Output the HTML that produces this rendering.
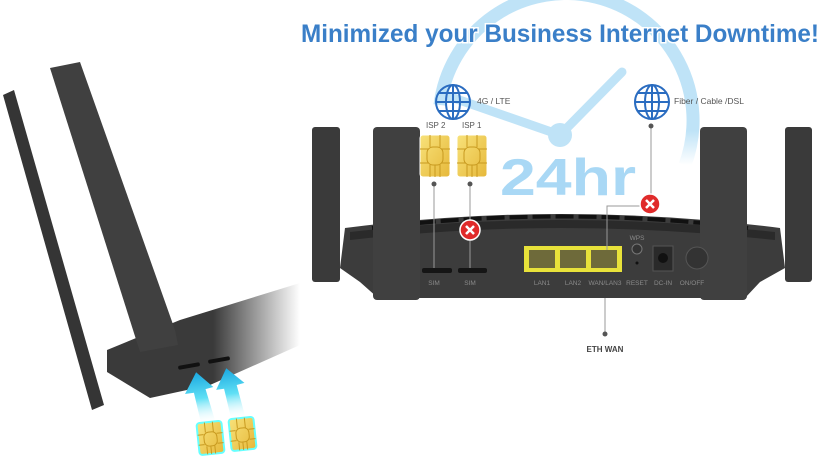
<!DOCTYPE html>
<html><head><meta charset="utf-8"><style>
html,body{margin:0;padding:0;background:#fff;width:830px;height:466px;overflow:hidden}
svg{display:block}
text{font-family:"Liberation Sans",sans-serif}
</style></head><body>
<svg width="830" height="466" viewBox="0 0 830 466" xmlns="http://www.w3.org/2000/svg">
<defs>
<linearGradient id="fade" x1="0" y1="0" x2="1" y2="0">
<stop offset="0" stop-color="#3a3a3a"/><stop offset="0.55" stop-color="#3a3a3a"/><stop offset="1" stop-color="#fff"/>
</linearGradient>
<linearGradient id="arr" x1="0" y1="1" x2="0" y2="0">
<stop offset="0" stop-color="#fff" stop-opacity="0"/><stop offset="0.5" stop-color="#60e0f5"/><stop offset="1" stop-color="#1aa8e0"/>
</linearGradient>
<linearGradient id="simg" x1="0" y1="0" x2="1" y2="1">
<stop offset="0" stop-color="#f8e27a"/><stop offset="1" stop-color="#e6b83a"/>
</linearGradient>
<linearGradient id="arcfade" x1="0" y1="0" x2="0" y2="1">
<stop offset="0" stop-color="#bfe3f7"/><stop offset="0.8" stop-color="#bfe3f7"/><stop offset="1" stop-color="#fff"/>
</linearGradient>
<g id="globe" fill="none" stroke="#2a6cc0" stroke-width="2">
<circle r="17"/><ellipse rx="7" ry="17"/><line x1="-17" y1="0" x2="17" y2="0"/><line x1="0" y1="-17" x2="0" y2="17"/><path d="M-14 -9H14M-14 9H14"/>
</g>
<g id="sim">
<rect x="0" y="0" width="30" height="42" rx="3" fill="url(#simg)" stroke="#fff" stroke-width="1"/>
<path d="M10 0V12M20 0V12M0 14H8M22 14H30M0 28H8M22 28H30M10 30V42M15 30V42M20 30V42" stroke="#c89a20" stroke-width="1" fill="none"/>
<rect x="7" y="12" width="16" height="18" rx="6" fill="none" stroke="#c89a20"/>
</g>
<g id="simsm">
<rect x="0" y="0" width="25" height="32" rx="3" fill="url(#simg)" stroke="#6ff" stroke-width="2"/>
<path d="M8 0V10M16 0V10M0 12H6M19 12H25M0 22H6M19 22H25M8 24V32M12 24V32M16 24V32" stroke="#c89a20" stroke-width="1" fill="none"/>
<rect x="6" y="10" width="13" height="14" rx="5" fill="none" stroke="#c89a20"/>
</g>
<g id="rx"><circle r="10" fill="#e02b2b" stroke="#fff" stroke-width="1.5"/><path d="M-4 -4L4 4M4 -4L-4 4" stroke="#fff" stroke-width="2.5"/></g>
</defs>

<!-- clock -->
<path d="M440 105 A127 127 0 1 1 685 165" fill="none" stroke="url(#arcfade)" stroke-width="13"/>
<line x1="560" y1="135" x2="622" y2="72" stroke="#bfe3f7" stroke-width="9" stroke-linecap="round"/>
<line x1="560" y1="135" x2="445" y2="95" stroke="#bfe3f7" stroke-width="9" stroke-linecap="round"/>
<circle cx="560" cy="135" r="12" fill="#bfe3f7"/>
<text x="500" y="195" font-size="52" font-weight="bold" fill="#a9d8f5" textLength="136" lengthAdjust="spacingAndGlyphs">24hr</text>

<!-- title -->
<text x="301" y="42" font-size="25" font-weight="bold" fill="#3a7fc8" stroke="#fff" stroke-width="3" paint-order="stroke" textLength="518" lengthAdjust="spacingAndGlyphs">Minimized your Business Internet Downtime!</text>

<!-- main router -->
<rect x="312" y="127" width="28" height="155" rx="3" fill="#3a3a3a"/>
<rect x="785" y="127" width="27" height="155" rx="3" fill="#3a3a3a"/>
<path d="M345 228 Q560 200 780 228 L785 268 L760 282 L745 298 L378 298 L360 282 L340 268 Z" fill="#3c3c3c"/>
<path d="M350 232 Q560 208 775 232 L775 240 Q560 216 350 240Z" fill="#2a2a2a"/>
<path d="M372 228 Q560 205 748 228" stroke="#111" stroke-width="4" stroke-dasharray="18 5" fill="none"/>
<rect x="373" y="127" width="47" height="173" rx="4" fill="#404040"/>
<rect x="700" y="127" width="47" height="173" rx="4" fill="#404040"/>
<rect x="524" y="246" width="98" height="26" fill="#e8e23a"/>
<rect x="529" y="250" width="26" height="18" fill="#6e6a3a"/><rect x="560" y="250" width="26" height="18" fill="#6e6a3a"/><rect x="591" y="250" width="26" height="18" fill="#6e6a3a"/>
<rect x="422" y="268" width="30" height="5" rx="2" fill="#151515"/><rect x="458" y="268" width="29" height="5" rx="2" fill="#151515"/>
<circle cx="637" cy="249" r="5" fill="#333" stroke="#777"/><circle cx="637" cy="263" r="1.5" fill="#111"/>
<rect x="653" y="246" width="20" height="25" fill="#2a2a2a" stroke="#555"/><circle cx="663" cy="258" r="5" fill="#111"/>
<circle cx="697" cy="258" r="11" fill="#333" stroke="#555"/>
<g font-size="6.5" fill="#8a8a8a" text-anchor="middle">
<text x="434" y="285">SIM</text><text x="470" y="285">SIM</text><text x="542" y="285">LAN1</text><text x="573" y="285">LAN2</text><text x="605" y="285">WAN/LAN3</text><text x="637" y="285">RESET</text><text x="663" y="285">DC-IN</text><text x="692" y="285">ON/OFF</text><text x="637" y="240">WPS</text>
</g>

<!-- labels -->
<use href="#globe" x="453" y="102"/>
<use href="#globe" x="652" y="102"/>
<text x="477" y="104" font-size="8.5" fill="#555">4G / LTE</text>
<text x="674" y="104" font-size="8.5" fill="#555">Fiber / Cable /DSL</text>
<text x="426" y="128" font-size="8" fill="#555">ISP 2</text>
<text x="462" y="128" font-size="8" fill="#555">ISP 1</text>
<use href="#sim" x="420" y="135"/>
<use href="#sim" x="457" y="135"/>
<g stroke="#999" stroke-width="1" fill="none">
<line x1="434" y1="184" x2="434" y2="268"/><line x1="470" y1="184" x2="470" y2="268"/>
<path d="M651 126V206H607V250"/><line x1="605" y1="298" x2="605" y2="333"/>
</g>
<g fill="#555"><circle cx="434" cy="184" r="2.5"/><circle cx="470" cy="184" r="2.5"/><circle cx="651" cy="126" r="2.5"/><circle cx="605" cy="334" r="2.5"/></g>
<use href="#rx" x="470" y="230"/>
<use href="#rx" x="650" y="204"/>
<text x="605" y="352" text-anchor="middle" font-size="8" font-weight="bold" fill="#444">ETH WAN</text>

<!-- left router -->
<polygon points="107,350 180,320 300,283 300,345 210,385 150,398 107,372" fill="url(#fade)"/>
<polygon points="3,95 14,90 104,405 92,410" fill="#353535"/>
<polygon points="50,68 80,62 175,330 178,345 140,352" fill="#404040"/>
<rect x="178" y="364" width="22" height="4" rx="2" fill="#111" transform="rotate(-10 189 366)"/>
<rect x="208" y="358" width="22" height="4" rx="2" fill="#111" transform="rotate(-10 219 360)"/>
<polygon points="200,372 186,392 195,392 198,425 212,422 207,390 215,389" fill="url(#arr)" transform="rotate(-8 200 400)"/>
<polygon points="230,368 217,388 225,388 228,420 242,418 238,386 246,385" fill="url(#arr)" transform="rotate(-8 230 395)"/>
<use href="#simsm" x="198" y="422" transform="rotate(-6 210 438)"/>
<use href="#simsm" x="230" y="418" transform="rotate(-6 242 434)"/>
</svg>
</body></html>
